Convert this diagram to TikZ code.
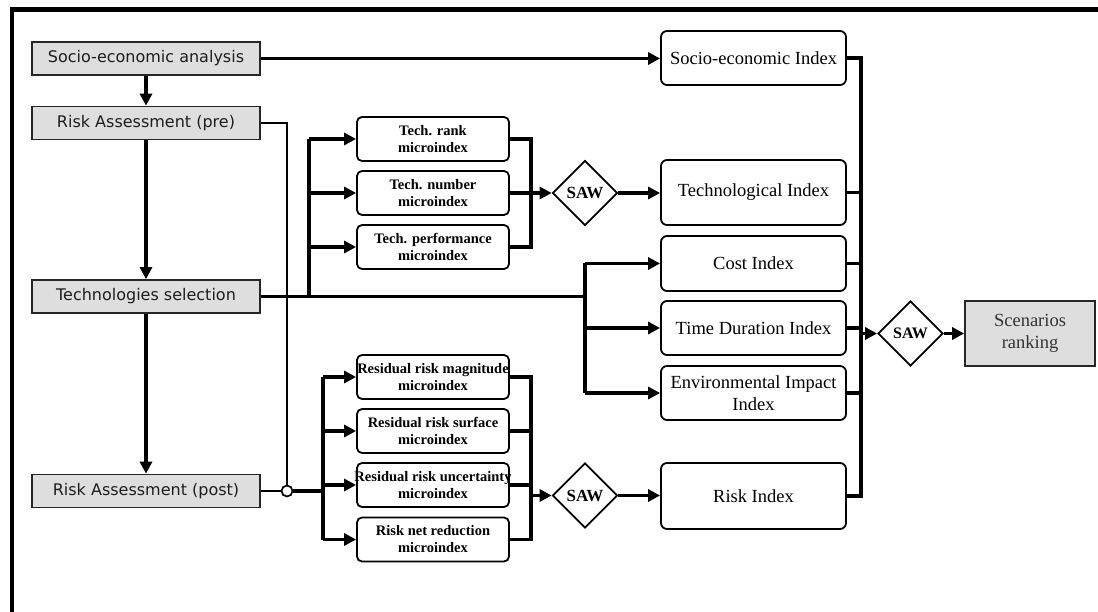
\documentclass[tikz,border=0pt]{standalone}
\usepackage{fontspec}
\setmainfont{Liberation Serif}
\newfontfamily\verd{DejaVu Sans}
\usetikzlibrary{arrows.meta,shapes.geometric}
\definecolor{boxgrey}{HTML}{DEDEDE}
\definecolor{txtgrey}{HTML}{1E1E1E}
\begin{document}
\begin{tikzpicture}[x=1pt,y=-1pt,
  conn/.style={line width=3.2pt},
  arr/.style={line width=3.2pt,-{Triangle[length=12pt,width=12pt]}},
  thinln/.style={line width=1.7pt},
  greybox/.style={draw=black!85,line width=1.7pt,fill=boxgrey,minimum width=228pt,minimum height=33pt,inner sep=0pt,font=\verd\fontsize{16}{19}\selectfont,text=txtgrey},
  idx/.style={draw,line width=1.8pt,rounded corners=6pt,minimum width=185pt,inner sep=0pt,align=center,font=\fontsize{18.5}{22}\selectfont},
  micro/.style={draw,line width=1.8pt,rounded corners=5pt,minimum width=152pt,minimum height=44pt,inner sep=0pt,align=center,font=\bfseries\fontsize{14.5}{17}\selectfont},
  saw/.style={draw,diamond,aspect=1,line width=1.7pt,minimum size=65pt,inner sep=0pt,font=\bfseries\fontsize{17}{19}\selectfont},
]
\useasboundingbox (0,0) rectangle (1098,612);
\draw[line width=4.5pt] (12,612) -- (12,9.5) -- (1098,9.5);

% left column
\node[greybox] (sa) at (146,58.5) {Socio-economic analysis};
\node[greybox] (rpre) at (146,123) {Risk Assessment (pre)};
\node[greybox] (ts) at (146,296.5) {Technologies selection};
\node[greybox] (rpost) at (146,491) {Risk Assessment (post)};

% indices
\node[idx,minimum height=54pt] (sei) at (753.5,58) {Socio-economic Index};
\node[idx,minimum height=65pt] (ti) at (753.5,192.5) {Technological Index};
\node[idx,minimum height=55pt] (ci) at (753.5,263.5) {Cost Index};
\node[idx,minimum height=54pt] (tdi) at (753.5,328) {Time Duration Index};
\node[idx,minimum height=54pt] (eii) at (753.5,393) {Environmental Impact\\Index};
\node[idx,minimum height=66pt] (ri) at (753.5,496) {Risk Index};

% micro indices
\node[micro] (m1) at (433,139) {Tech. rank\\microindex};
\node[micro] (m2) at (433,193) {Tech. number\\microindex};
\node[micro] (m3) at (433,247) {Tech. performance\\microindex};
\node[micro] (m4) at (433,377) {\makebox[150pt]{Residual risk magnitude}\\microindex};
\node[micro] (m5) at (433,431) {Residual risk surface\\microindex};
\node[micro] (m6) at (433,485) {\makebox[150pt]{Residual risk uncertainty}\\microindex};
\node[micro] (m7) at (433,539.5) {Risk net reduction\\microindex};

% SAW diamonds
\node[saw] (s1) at (585,193) {SAW};
\node[saw] (s2) at (585,495.5) {SAW};
\node[saw,font=\bfseries\fontsize{16}{18}\selectfont] (s3) at (910.5,333.5) {SAW};

\node[draw=black!85,line width=1.7pt,fill=boxgrey,minimum width=130pt,minimum height=65pt,inner sep=0pt,align=center,font=\fontsize{18.5}{22}\selectfont,text=black!80] (sr) at (1030,333.5) {Scenarios\\ranking};

% junction circle
\node[circle,draw,line width=1.7pt,fill=white,minimum size=11pt,inner sep=0pt] (jn) at (287,491) {};

% left column arrows
\draw[arr] (sa) -- (rpre);
\draw[arr] (rpre) -- (ts);
\draw[arr] (ts) -- (rpost);
\draw[arr] (sa.east) -- (sa.east -| sei.west);

% risk assessment lines
\draw[thinln] (rpre.east) -| (jn.north);
\draw[thinln] (rpost.east) -- (jn.west);
\coordinate (rb) at (323,491);
\draw[conn] (jn.east) -- (rb);
\draw[conn] (rb |- m4.west) -- (rb |- m7.west);
\foreach \m in {m4,m5,m6,m7} \draw[arr] (rb |- \m.west) -- (\m.west);

% technologies selection lines
\coordinate (tb) at (309,296.5);
\coordinate (cb) at (585,296.5);
\draw[conn] (ts.east) -- (cb);
\draw[conn] (tb) -- (tb |- m1.west);
\foreach \m in {m1,m2,m3} \draw[arr] (tb |- \m.west) -- (\m.west);
\draw[conn] (cb |- ci.west) -- (cb |- eii.west);
\foreach \m in {ci,tdi,eii} \draw[arr] (cb |- \m.west) -- (\m.west);

% tech collector
\coordinate (k1) at (531,193);
\draw[conn] (m1.east) -| (k1 |- m3.east) -- (m3.east);
\draw[conn] (m2.east) -- (k1);
\draw[arr] (k1) -- (s1.west);
\draw[arr] (s1.east) -- (s1.east -| ti.west);

% risk collector
\coordinate (k2) at (531,495.5);
\draw[conn] (m4.east) -| (k2 |- m7.east) -- (m7.east);
\draw[conn] (m5.east) -- (m5.east -| k2);
\draw[conn] (m6.east) -- (m6.east -| k2);
\draw[arr] (k2) -- (s2.west);
\draw[arr] (s2.east) -- (s2.east -| ri.west);

% final collector
\coordinate (k3) at (861,333.5);
\draw[conn] (sei.east) -| (k3 |- ri.east) -- (ri.east);
\foreach \m in {ti,ci,tdi,eii} \draw[conn] (\m.east) -- (\m.east -| k3);
\draw[arr] (k3) -- (s3.west);
\draw[arr] (s3.east) -- (sr.west);
\end{tikzpicture}
\end{document}
